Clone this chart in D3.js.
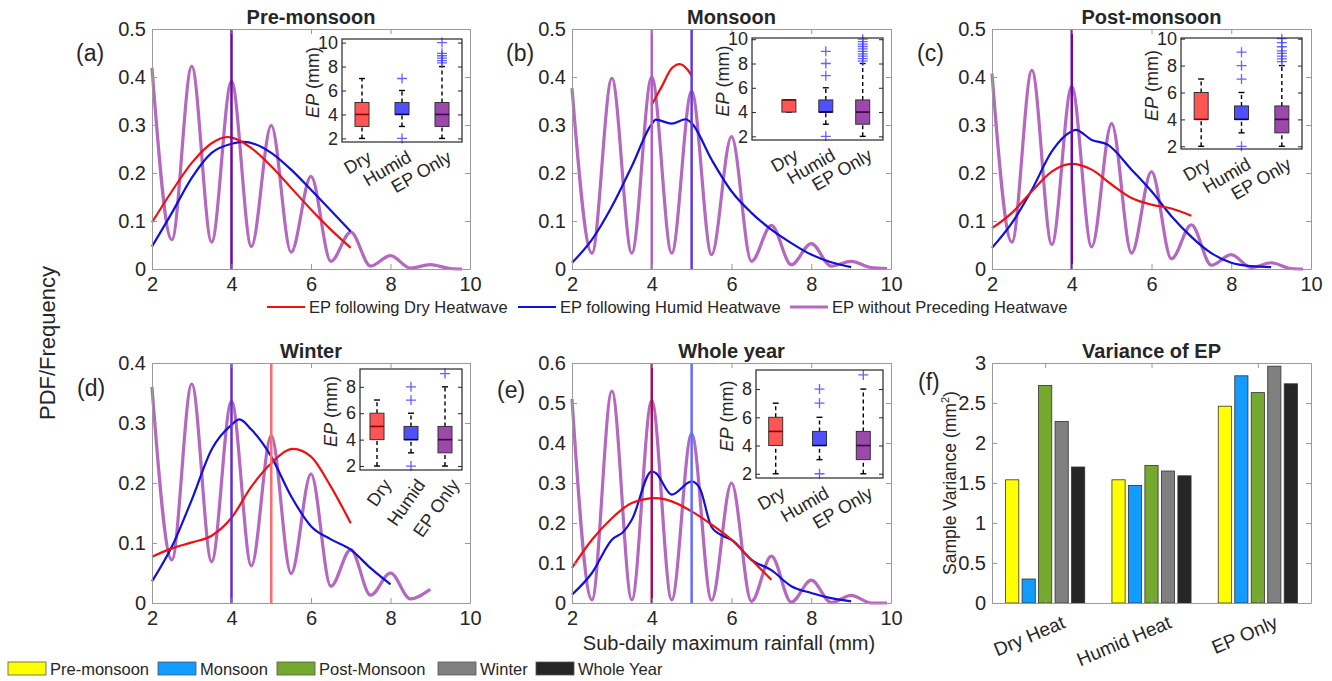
<!DOCTYPE html>
<html lang="en">
<head>
<meta charset="UTF-8">
<title>EP PDF by season</title>
<style>
	body { margin: 0; background: #fff; }
	svg text { font-family: Arial, "Liberation Sans", sans-serif; fill: #262626; }
</style>
</head>
<body>
<script src="https://cdn.jsdelivr.net/npm/d3@7/dist/d3.min.js"></script>
<script>
// ---- data ----
var seasonTitles = ["Pre-monsoon", "Monsoon", "Post-monsoon", "Winter", "Whole year"];
var panelTags = ["(a)", "(b)", "(c)", "(d)", "(e)"];
var pdfXTicks = [2, 4, 6, 8, 10];
var yTicksTop = [0, 0.1, 0.2, 0.3, 0.4, 0.5];
var yTicksWin = [0, 0.1, 0.2, 0.3, 0.4];
var yTicksYear = [0, 0.1, 0.2, 0.3, 0.4, 0.5, 0.6];

// [x, pdf] points of each curve
var dryPre = [[2,0.097],[2.5,0.162],[3,0.221],[3.5,0.262],[3.9,0.275],[4.5,0.252],[5,0.214],[5.5,0.169],[6,0.124],[6.5,0.082],[7,0.044]];
var humidPre = [[2,0.047],[2.5,0.117],[3,0.19],[3.5,0.242],[4,0.261],[4.3,0.265],[4.6,0.26],[5,0.242],[5.5,0.207],[6,0.165],[6.5,0.122],[7,0.078]];
var epPre = [[2,0.419],[2.5,0.061],[3,0.422],[3.5,0.056],[4,0.391],[4.5,0.047],[5,0.299],[5.5,0.035],[6,0.193],[6.5,0.016],[7,0.077],[7.5,0.006],[8,0.028],[8.5,0.002],[9,0.009],[9.5,0.001],[9.8,0]];

var dryMon = [[4,0.342],[4.25,0.38],[4.5,0.418],[4.7,0.427],[4.9,0.415],[5,0.403]];
var humidMon = [[2,0.013],[2.5,0.061],[3,0.13],[3.5,0.214],[4,0.302],[4.1,0.311],[4.5,0.303],[4.85,0.312],[5,0.304],[5.5,0.228],[6,0.162],[6.5,0.117],[7,0.082],[7.5,0.054],[8,0.03],[8.5,0.014],[9,0.004]];
var epMon = [[2,0.377],[2.5,0.033],[3,0.397],[3.5,0.033],[4,0.4],[4.5,0.033],[5,0.37],[5.5,0.03],[6,0.276],[6.5,0.016],[7,0.091],[7.5,0.009],[8,0.053],[8.5,0.006],[9,0.016],[9.5,0.003],[9.9,0.001]];

var dryPost = [[2,0.085],[2.5,0.117],[3,0.162],[3.5,0.203],[4,0.219],[4.5,0.207],[5,0.176],[5.5,0.148],[6,0.134],[6.5,0.126],[7,0.111]];
var humidPost = [[2,0.044],[2.5,0.096],[3,0.165],[3.5,0.245],[4,0.287],[4.1,0.29],[4.5,0.269],[4.9,0.259],[5.5,0.207],[6,0.162],[6.5,0.11],[7,0.067],[7.5,0.033],[8,0.013],[8.5,0.006],[9,0.004]];
var epPost = [[2,0.407],[2.5,0.056],[3,0.414],[3.5,0.051],[4,0.38],[4.5,0.046],[5,0.303],[5.5,0.033],[6,0.203],[6.5,0.021],[7,0.092],[7.5,0.008],[8,0.03],[8.5,0.003],[9,0.013],[9.5,0.001],[9.8,0]];

var dryWin = [[2,0.077],[2.5,0.091],[3,0.101],[3.5,0.112],[4,0.142],[4.5,0.194],[5,0.233],[5.55,0.257],[6,0.244],[6.5,0.194],[7,0.133]];
var humidWin = [[2,0.036],[2.5,0.094],[3,0.172],[3.5,0.256],[4,0.297],[4.2,0.306],[4.5,0.289],[5,0.244],[5.5,0.178],[6,0.128],[6.5,0.106],[7,0.089],[7.5,0.058],[8,0.031]];
var epWin = [[2,0.36],[2.5,0.072],[3,0.365],[3.5,0.069],[4,0.336],[4.5,0.062],[5,0.279],[5.5,0.049],[6,0.215],[6.5,0.028],[7,0.089],[7.5,0.013],[8,0.05],[8.5,0.007],[9,0.023]];

var dryYear = [[2,0.088],[2.5,0.158],[3,0.212],[3.5,0.25],[4.1,0.262],[4.5,0.254],[5,0.229],[5.5,0.196],[6,0.158],[6.5,0.108],[7,0.058]];
var humidYear = [[2,0.021],[2.5,0.075],[3,0.158],[3.3,0.179],[3.5,0.208],[4,0.329],[4.1,0.325],[4.5,0.271],[5,0.304],[5.2,0.288],[5.5,0.19],[5.8,0.167],[6,0.158],[6.5,0.108],[7,0.082],[7.5,0.042],[8,0.025],[8.5,0.012],[9,0.004]];
var epYear = [[2,0.51],[2.5,0.008],[3,0.53],[3.5,0.008],[4,0.506],[4.5,0.008],[5,0.423],[5.5,0.007],[6,0.3],[6.5,0.004],[7,0.117],[7.5,0.002],[8,0.057],[8.5,0.001],[9,0.019],[9.5,0],[9.9,0]];

// median marker lines (x positions)
var medPre = [4], medMon = [4, 5], medPost = [4], medWin = [4, 5], medYear = [4, 5];

// inset boxplots: [q1, median, q3, whiskerLow, whiskerHigh, outliers] for Dry, Humid, EP Only
var boxCats = ["Dry", "Humid", "EP Only"];
var boxTicks10 = [2, 4, 6, 8, 10];
var boxTicks8 = [2, 4, 6, 8];
var boxPre = [[3,4,5,2,7,[]],[4,4,5,3,6,[2,7]],[3,4,5,2,8,[8.3,8.5,8.7,8.9,9.1,10]]];
var boxMon = [[4,5,5,4,5,[]],[4,4,5,3,6,[2,7,8,9]],[3,4,5,2,8,[8.2,8.4,8.6,8.8,9,9.2,9.4,9.6,9.8,10]]];
var boxPost = [[4,4,6,2,7,[]],[4,4,5,3,6,[2,7,8,9]],[3,4,5,2,8,[8.3,8.5,8.7,8.9,9.1,9.4,9.7,10]]];
var boxWin = [[4,5,6,2,7,[]],[4,4,5,3,6,[2,7,8]],[3,4,5,2,8,[9]]];
var boxYear = [[4,5,6,2,7,[]],[4,4,5,3,6,[2,7,8]],[3,4,5,2,8,[9]]];

// variance bars
var barGroups = ["Dry Heat", "Humid Heat", "EP Only"];
var barSeasons = ["Pre-monsoon", "Monsoon", "Post-Monsoon", "Winter", "Whole Year"];
var varDry = [1.54, 0.30, 2.72, 2.27, 1.70];
var varHumid = [1.54, 1.47, 1.72, 1.65, 1.59];
var varEP = [2.46, 2.84, 2.63, 2.96, 2.74];
var barYTicks = [0, 0.5, 1, 1.5, 2, 2.5, 3];

var lineNames = ["EP following Dry Heatwave", "EP following Humid Heatwave", "EP without Preceding Heatwave"];

// ---- styles / layout ----
var cRed = "#f01010", cBlue = "#1010d8", cPurple = "#b468c0";
var seasonCols = ["#ffff00", "#129cff", "#74a82e", "#808080", "#262626"];
var boxFill = ["#ff5555", "#5050ff", "#9d48ab"];
var boxMed = ["#8a0000", "#000050", "#3a0040"];

var panels = [
	{x0:152, x1:470, y0:29, y1:269, yMax:0.5, yt:yTicksTop, dry:dryPre, hum:humidPre, ep:epPre, box:boxPre, med:medPre, medCol:["#6b0aa0"],
	 ins:[342,462,39,142], insX:[0.5,3.5], insY:[1.7,10.3], insT:boxTicks10, rot:-30, tx:76, ty:61},
	{x0:572, x1:891, y0:29, y1:269, yMax:0.5, yt:yTicksTop, dry:dryMon, hum:humidMon, ep:epMon, box:boxMon, med:medMon, medCol:["#b060c4","#6438d8"],
	 ins:[752,883,38,140], insX:[0.0,3.55], insY:[1.7,10.1], insT:boxTicks10, rot:-30, tx:506, ty:61},
	{x0:992, x1:1311, y0:29, y1:269, yMax:0.5, yt:yTicksTop, dry:dryPost, hum:humidPost, ep:epPost, box:boxPost, med:medPost, medCol:["#6b0aa0"],
	 ins:[1181,1302,38,149], insX:[0.5,3.5], insY:[1.8,10.05], insT:boxTicks10, rot:-30, tx:917, ty:61},
	{x0:152, x1:470, y0:363, y1:603, yMax:0.4, yt:yTicksWin, dry:dryWin, hum:humidWin, ep:epWin, box:boxWin, med:medWin, medCol:["#6a2acb","#ff6b6b"],
	 ins:[360,462,369,470], insX:[0.5,3.5], insY:[1.7,9.35], insT:boxTicks8, rot:-55, tx:77, ty:396},
	{x0:572, x1:891, y0:363, y1:603, yMax:0.6, yt:yTicksYear, dry:dryYear, hum:humidYear, ep:epYear, box:boxYear, med:medYear, medCol:["#a0105a","#5f6dff"],
	 ins:[756,883,370,478], insX:[0.55,3.45], insY:[1.7,9.35], insT:boxTicks8, rot:-30, tx:497, ty:398}
];

var svg = d3.select("body").append("svg")
	.attr("width", 1332)
	.attr("height", 681);

var fmt1 = d3.format(".1~f");

function styleAxis(sel, col, fs) {
	sel.selectAll(".domain").attr("stroke", col);
	sel.selectAll(".tick line").attr("stroke", col);
	sel.selectAll(".tick text").attr("font-size", fs).attr("fill", "#262626")
		.style("font-family", "Arial, 'Liberation Sans', sans-serif");
}

// draws a MATLAB-like box: labels left/bottom, ticks inside on every side
function drawFrame(g, x, y, xt, yt, xfmt, yfmt, col, fs, tl) {
	var w = x.range()[1], h = y.range()[0];
	var ax = g.append("g").attr("transform", "translate(0," + h + ")")
		.call(d3.axisBottom(x).tickValues(xt).tickFormat(xfmt).tickSize(-tl).tickSizeOuter(0).tickPadding(8));
	styleAxis(ax, col, fs);
	var at = g.append("g").call(d3.axisTop(x).tickValues(xt).tickFormat("").tickSize(-tl).tickSizeOuter(0));
	styleAxis(at, col, fs);
	var ay = g.append("g").call(d3.axisLeft(y).tickValues(yt).tickFormat(yfmt).tickSize(-tl).tickSizeOuter(0).tickPadding(6));
	styleAxis(ay, col, fs);
	var ar = g.append("g").attr("transform", "translate(" + w + ",0)")
		.call(d3.axisRight(y).tickValues(yt).tickFormat("").tickSize(-tl).tickSizeOuter(0));
	styleAxis(ar, col, fs);
}

panels.forEach(function (p, i) {
	var w = p.x1 - p.x0, h = p.y1 - p.y0;
	var g = svg.append("g").attr("transform", "translate(" + p.x0 + "," + p.y0 + ")");
	var x = d3.scaleLinear().domain([2, 10]).range([0, w]);
	var y = d3.scaleLinear().domain([0, p.yMax]).range([h, 0]);

	g.append("rect").attr("width", w).attr("height", h).attr("fill", "#fff");

	var line = d3.line().x(function (d) { return x(d[0]); }).y(function (d) { return y(d[1]); })
		.curve(d3.curveMonotoneX);

	g.append("path").datum(p.ep).attr("d", line).attr("fill", "none")
		.attr("stroke", cPurple).attr("stroke-width", 3.2);
	g.append("path").datum(p.hum).attr("d", line).attr("fill", "none")
		.attr("stroke", cBlue).attr("stroke-width", 2.2);
	g.append("path").datum(p.dry).attr("d", line).attr("fill", "none")
		.attr("stroke", cRed).attr("stroke-width", 2.2);

	g.selectAll(".med").data(p.med).enter().append("line")
		.attr("x1", function (d) { return x(d); }).attr("x2", function (d) { return x(d); })
		.attr("y1", 0).attr("y2", h)
		.attr("stroke", function (d, k) { return p.medCol[k]; })
		.attr("stroke-width", 2.5);

	drawFrame(g, x, y, pdfXTicks, p.yt, d3.format("d"), fmt1, "#9a9a9a", "20px", 5);

	g.append("text").attr("x", w / 2).attr("y", -5).attr("text-anchor", "middle")
		.attr("font-size", "20px").attr("font-weight", "bold").attr("fill", "#000")
		.text(seasonTitles[i]);
	svg.append("text").attr("x", p.tx).attr("y", p.ty).attr("font-size", "23px").text(panelTags[i]);

	// inset boxplot
	var b = p.ins;
	var ig = svg.append("g").attr("transform", "translate(" + b[0] + "," + b[2] + ")");
	var iw = b[1] - b[0], ih = b[3] - b[2];
	var bx = d3.scaleLinear().domain(p.insX).range([0, iw]);
	var by = d3.scaleLinear().domain(p.insY).range([ih, 0]);
	ig.append("rect").attr("width", iw).attr("height", ih).attr("fill", "#fff");

	p.box.forEach(function (s, k) {
		var cx = bx(k + 1), bw = 14;
		ig.append("line").attr("x1", cx).attr("x2", cx).attr("y1", by(s[3])).attr("y2", by(s[0]))
			.attr("stroke", "#000").attr("stroke-width", 1.4).attr("stroke-dasharray", "4,3");
		ig.append("line").attr("x1", cx).attr("x2", cx).attr("y1", by(s[2])).attr("y2", by(s[4]))
			.attr("stroke", "#000").attr("stroke-width", 1.4).attr("stroke-dasharray", "4,3");
		[s[3], s[4]].forEach(function (v) {
			ig.append("line").attr("x1", cx - 3).attr("x2", cx + 3).attr("y1", by(v)).attr("y2", by(v))
				.attr("stroke", "#000").attr("stroke-width", 1.4);
		});
		ig.append("rect").attr("x", cx - bw / 2).attr("y", by(s[2]))
			.attr("width", bw).attr("height", Math.max(by(s[0]) - by(s[2]), 1))
			.attr("fill", boxFill[k]).attr("stroke", "#333").attr("stroke-width", 1);
		ig.append("line").attr("x1", cx - bw / 2).attr("x2", cx + bw / 2).attr("y1", by(s[1])).attr("y2", by(s[1]))
			.attr("stroke", boxMed[k]).attr("stroke-width", 1.6);
		ig.selectAll(null).data(s[5]).enter().append("path")
			.attr("transform", function (d) { return "translate(" + cx + "," + by(d) + ")"; })
			.attr("d", "M-5,0H5M0,-5V5")
			.attr("stroke", "#4848ff").attr("stroke-width", 1.3).attr("opacity", 0.85);
	});

	ig.append("rect").attr("width", iw).attr("height", ih).attr("fill", "none")
		.attr("stroke", "#262626").attr("stroke-width", 1.2);
	var iy = ig.append("g").call(d3.axisLeft(by).tickValues(p.insT).tickSize(-4).tickSizeOuter(0).tickPadding(4));
	styleAxis(iy, "#262626", "18px");
	iy.select(".domain").remove();
	var iyr = ig.append("g").attr("transform", "translate(" + iw + ",0)")
		.call(d3.axisRight(by).tickValues(p.insT).tickFormat("").tickSize(-4).tickSizeOuter(0));
	iyr.selectAll(".tick line").attr("stroke", "#262626");
	iyr.select(".domain").remove();

	var yl = ig.append("text")
		.attr("transform", "translate(-23," + (ih / 2 - 8) + ") rotate(-90)")
		.attr("text-anchor", "middle").attr("font-size", "18px");
	yl.append("tspan").attr("font-style", "italic").text("EP");
	yl.append("tspan").text(" (mm)");

	ig.selectAll(".clab").data(boxCats).enter().append("text")
		.attr("transform", function (d, k) { return "translate(" + (bx(k + 1) + 4) + "," + (ih + 7) + ") rotate(" + p.rot + ")"; })
		.attr("text-anchor", "end").attr("dy", "0.75em")
		.attr("font-size", "18px").text(function (d) { return d; });
});

// shared labels
svg.append("text").attr("transform", "translate(55,343) rotate(-90)")
	.attr("text-anchor", "middle").attr("font-size", "22px").text("PDF/Frequency");
svg.append("text").attr("x", 729).attr("y", 650).attr("text-anchor", "middle")
	.attr("font-size", "20px").text("Sub-daily maximum rainfall (mm)");

// line legend
var legX = [267, 518, 790];
var legCols = [cRed, cBlue, cPurple];
var lg = svg.append("g");
lineNames.forEach(function (n, k) {
	lg.append("line").attr("x1", legX[k]).attr("x2", legX[k] + 38).attr("y1", 307).attr("y2", 307)
		.attr("stroke", legCols[k]).attr("stroke-width", k === 2 ? 3 : 2.2);
	lg.append("text").attr("x", legX[k] + 42).attr("y", 313).attr("font-size", "16.5px").text(n);
});

// ---- (f) variance bars ----
var f = {x0:992, x1:1311, y0:363, y1:603};
var fw = f.x1 - f.x0, fh = f.y1 - f.y0;
var fg = svg.append("g").attr("transform", "translate(" + f.x0 + "," + f.y0 + ")");
var fx = d3.scaleLinear().domain([0.5, 3.5]).range([0, fw]);
var fy = d3.scaleLinear().domain([0, 3]).range([fh, 0]);
var offs = d3.scaleLinear().domain([0, 4]).range([-0.31, 0.31]);
var barRows = [varDry, varHumid, varEP];

fg.append("rect").attr("width", fw).attr("height", fh).attr("fill", "#fff");
barRows.forEach(function (row, gi) {
	fg.selectAll(null).data(row).enter().append("rect")
		.attr("x", function (d, k) { return fx(gi + 1 + offs(k)) - 6.6; })
		.attr("width", 13.2)
		.attr("y", function (d) { return fy(d); })
		.attr("height", function (d) { return fh - fy(d); })
		.attr("fill", function (d, k) { return seasonCols[k]; })
		.attr("stroke", "#333").attr("stroke-width", 0.8);
});
drawFrame(fg, fx, fy, [1, 2, 3], barYTicks, function () { return ""; }, d3.format("~g"), "#9a9a9a", "20px", 5);
fg.selectAll(".glab").data(barGroups).enter().append("text")
	.attr("transform", function (d, k) { return "translate(" + (fx(k + 1) + 16) + "," + (fh + 12) + ") rotate(-23)"; })
	.attr("text-anchor", "end").attr("dy", "0.7em").attr("font-size", "19px")
	.text(function (d) { return d; });
fg.append("text").attr("x", fw / 2).attr("y", -5).attr("text-anchor", "middle")
	.attr("font-size", "20px").attr("font-weight", "bold").attr("fill", "#000").text("Variance of EP");
svg.append("text").attr("x", 918).attr("y", 390).attr("font-size", "23px").text("(f)");
var fl = fg.append("text").attr("transform", "translate(-36," + (fh / 2) + ") rotate(-90)")
	.attr("text-anchor", "middle").attr("font-size", "17.5px");
fl.append("tspan").text("Sample Variance (mm");
fl.append("tspan").attr("dy", -7).attr("font-size", "11px").text("2");
fl.append("tspan").attr("dy", 7).text(")");

// season legend
var sx = [8, 158, 277, 438, 536];
barSeasons.forEach(function (n, k) {
	svg.append("rect").attr("x", sx[k]).attr("y", 662).attr("width", 38).attr("height", 13)
		.attr("fill", seasonCols[k]).attr("stroke", "#555").attr("stroke-width", 0.8);
	svg.append("text").attr("x", sx[k] + 42).attr("y", 675).attr("font-size", "16.5px").text(n);
});
</script>
</body>
</html>
